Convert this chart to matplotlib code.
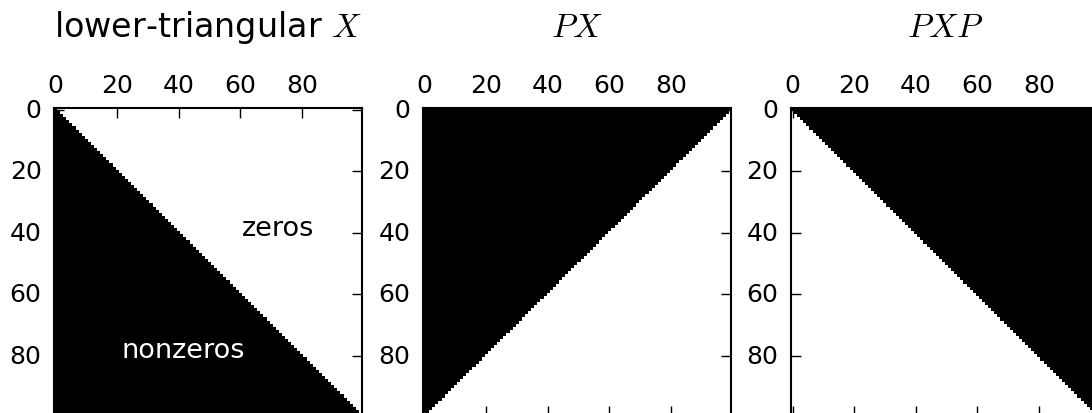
import numpy as np
import matplotlib
matplotlib.use('Agg')
from matplotlib import pyplot as plt

plt.style.use('classic')

n = 100
X = np.tril(np.ones((n, n)))      # lower-triangular X
PX = X[::-1, :]                   # P reverses the rows
PXP = X[::-1, ::-1]               # ... and the columns

titles = ['lower-triangular $X$', '$PX$', '$PXP$']
mats = [X, PX, PXP]
ticks = [0, 20, 40, 60, 80]

fig = plt.figure(figsize=(10.92, 4.14), dpi=100)
lefts = [54, 423, 791]
W, H = 1092., 414.
side = 308.

for left, M, title in zip(lefts, mats, titles):
    ax = fig.add_axes([left / W, (H - 109 - side) / H, side / W, side / H])
    ax.spy(M, aspect='auto')
    ax.set_xlim(-0.5, n - 0.5)
    ax.set_ylim(n - 0.5, -0.5)
    ax.set_xticks(ticks)
    ax.set_yticks(ticks)
    ax.tick_params(labelsize=18, length=7, width=1, direction='in', pad=8)
    ax.tick_params(axis='y', pad=9)
    for s in ax.spines.values():
        s.set_linewidth(1.5)
    ax.set_title(title, fontsize=24, y=1.0, pad=52)

ax1 = fig.axes[0]
ax1.text(72.4, 38.3, 'zeros', fontsize=19.5, color='black', ha='center', va='center')
ax1.text(41.6, 78.2, 'nonzeros', fontsize=19.5, color='white', ha='center', va='center')

fig.savefig('out.png', dpi=100)
